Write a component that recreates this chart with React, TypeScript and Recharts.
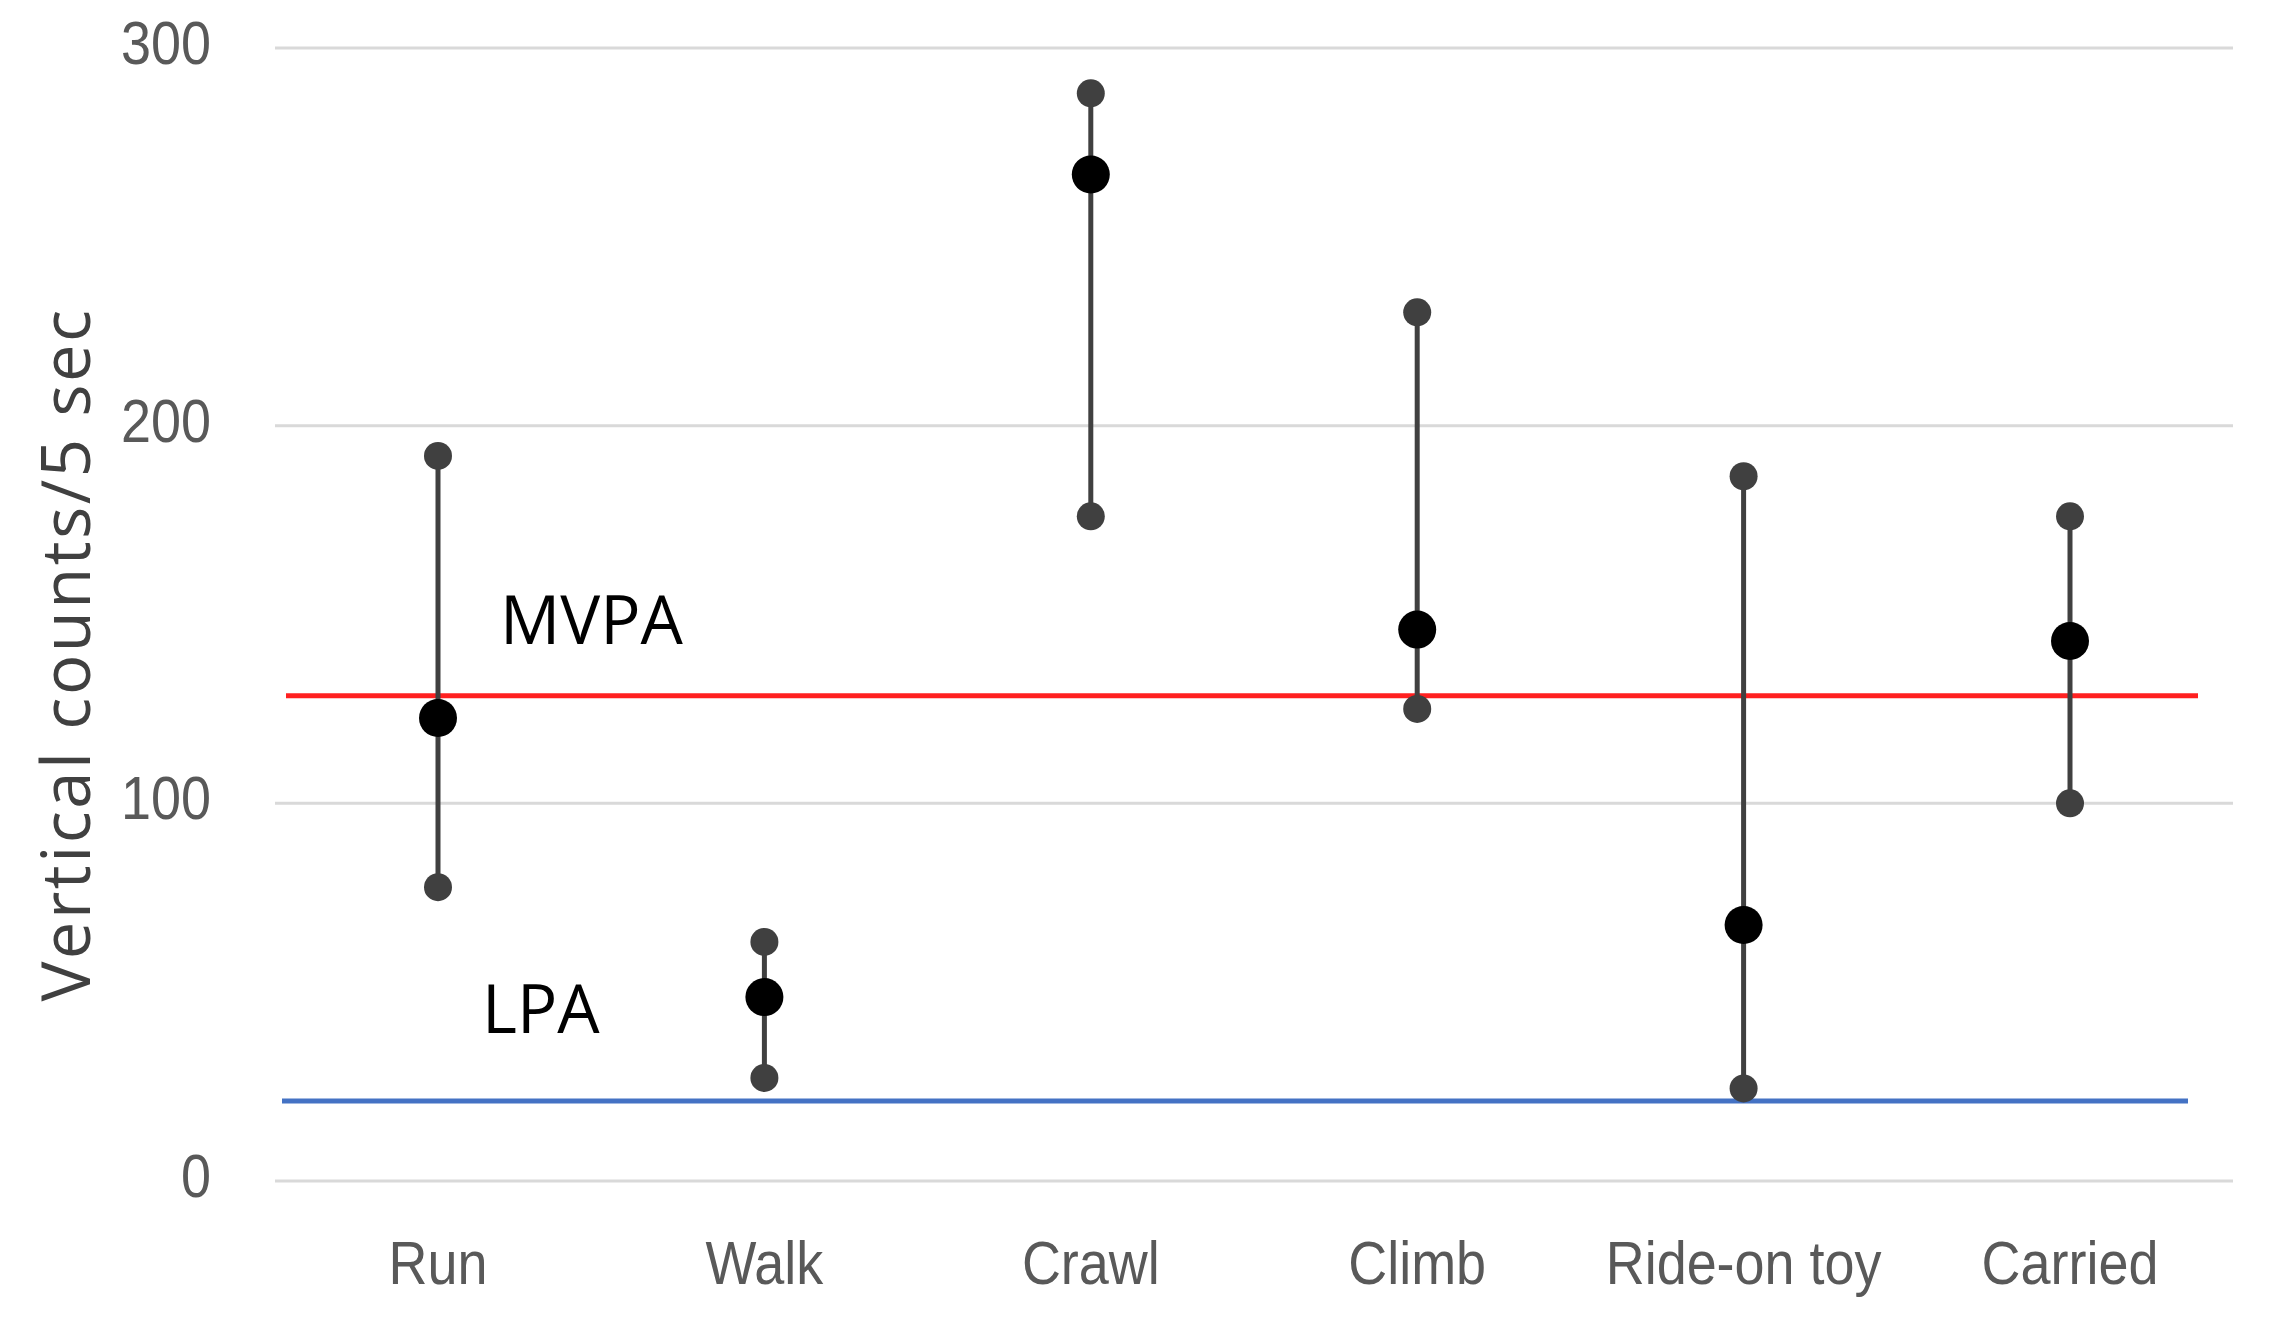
import {
  ComposedChart,
  Scatter,
  ErrorBar,
  XAxis,
  YAxis,
  CartesianGrid,
  ReferenceLine,
  Label,
} from 'recharts'

const CATEGORIES = ['Run', 'Walk', 'Crawl', 'Climb', 'Ride-on toy', 'Carried']
const MEAN = [122.6, 48.7, 266.5, 146, 67.8, 143]
const LOW = [77.8, 27.3, 176, 125, 24.5, 100]
const HIGH = [192, 63.3, 288, 230, 186.6, 176]
const Y_TICKS = [0, 100, 200, 300]
const MVPA_CUTOFF = 128.5
const LPA_CUTOFF = 21.2

const data = CATEGORIES.map((name, i) => ({
  name,
  mean: MEAN[i],
  low: LOW[i],
  high: HIGH[i],
  range: [MEAN[i] - LOW[i], HIGH[i] - MEAN[i]],
}))

const TICK_FONT = "'Liberation Sans', Arial, sans-serif"
const TEXT_FONT = "'Open Sans', 'Liberation Sans', sans-serif"

// condensed grey tick text (the original uses a narrow face)
function narrowTick(anchor: string, dy: string, shift: number) {
  return (p: any) => {
    const x = p.x
    const y = p.y + shift
    return (
      <text
        x={x}
        y={y}
        dy={dy}
        textAnchor={anchor}
        transform={`translate(${x} ${y}) scale(0.87 1) translate(${-x} ${-y})`}
        fontFamily={TICK_FONT}
        fontSize={62}
        fill="#595959"
      >
        {p.payload.value}
      </text>
    )
  }
}

const emptyShape = () => <g />
const endDot = (p: any) => <circle cx={p.cx} cy={p.cy} r={14} fill="#404040" />
const meanDot = (p: any) => <circle cx={p.cx} cy={p.cy} r={19} fill="#000" />

function trimmedLine(color: string, cutLeft: number, cutRight: number) {
  return (p: any) => (
    <line x1={p.x1 + cutLeft} y1={p.y1} x2={p.x2 - cutRight} y2={p.y2} stroke={color} strokeWidth={5} />
  )
}

function zoneLabel(text: string, dx: number, dy: number) {
  return ({ viewBox }: any) => (
    <text x={viewBox.x + dx} y={viewBox.y + dy} fontFamily={TEXT_FONT} fontSize={67} fill="#000">
      {text}
    </text>
  )
}

export default function App() {
  return (
    <div style={{ width: 2256, height: 1307, background: '#fff' }}>
      <ComposedChart width={2256} height={1307} data={data} margin={{ top: 40, right: 31, left: 0, bottom: 0 }}>
        <CartesianGrid vertical={false} stroke="#D9D9D9" strokeWidth={3} />
        <XAxis
          dataKey="name"
          type="category"
          interval={0}
          padding={{ left: 163, right: 163 }}
          axisLine={false}
          tickLine={false}
          tickSize={0}
          tickMargin={59}
          height={134}
          tick={narrowTick('middle', '0.71em', 0)}
        />
        <YAxis
          domain={[0, 300]}
          ticks={Y_TICKS}
          width={267}
          axisLine={false}
          tickLine={false}
          tickSize={0}
          tickMargin={64}
          tick={narrowTick('end', '0.355em', -6)}
        >
          <Label
            content={({ viewBox }: any) => {
              const cx = viewBox.x + 56
              const cy = viewBox.y + viewBox.height / 2 + 40
              return (
                <text
                  x={cx}
                  y={cy}
                  transform={`rotate(-90 ${cx} ${cy})`}
                  textAnchor="middle"
                  dominantBaseline="central"
                  fontFamily={TEXT_FONT}
                  fontSize={67}
                  letterSpacing={2.5}
                  fill="#404040"
                >
                  Vertical counts/5 sec
                </text>
              )
            }}
          />
        </YAxis>

        <ReferenceLine y={MVPA_CUTOFF} shape={trimmedLine('#FF2020', 11, 35)}>
          <Label content={zoneLabel('MVPA', 225, -52)} />
        </ReferenceLine>
        <ReferenceLine y={LPA_CUTOFF} shape={trimmedLine('#4472C4', 7, 45)}>
          <Label content={zoneLabel('LPA', 207, -68)} />
        </ReferenceLine>

        {/* vertical range line */}
        <Scatter dataKey="mean" shape={emptyShape} isAnimationActive={false}>
          <ErrorBar dataKey="range" direction="y" width={0} stroke="#404040" strokeWidth={5} isAnimationActive={false} />
        </Scatter>
        <Scatter dataKey="low" shape={endDot} isAnimationActive={false} />
        <Scatter dataKey="high" shape={endDot} isAnimationActive={false} />
        <Scatter dataKey="mean" shape={meanDot} isAnimationActive={false} />
      </ComposedChart>
    </div>
  )
}
